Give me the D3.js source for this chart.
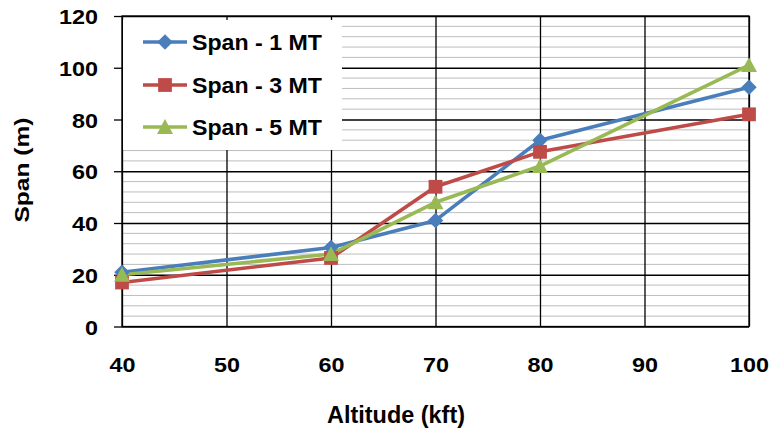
<!DOCTYPE html>
<html><head><meta charset="utf-8">
<script src="https://cdn.jsdelivr.net/npm/d3@7"></script>
<style>body{margin:0;background:#fff}svg{display:block}text{font-family:"Liberation Sans",Arial,sans-serif;font-weight:bold;fill:#000}</style>
</head><body>
<script>
const altitudes = [40, 60, 70, 80, 100];
const span1MT = [21, 30.5, 41, 72, 92.5];
const span3MT = [17, 26.5, 54, 67.5, 82];
const span5MT = [20, 28, 48, 62, 101];
const seriesNames = ["Span - 1 MT", "Span - 3 MT", "Span - 5 MT"];
const xTicks = [40, 50, 60, 70, 80, 90, 100];
const yTicks = [0, 20, 40, 60, 80, 100, 120];

const W = 781, H = 429;
const L = 122, R = 749, T = 16, B = 326.5;
const svg = d3.select("body").append("svg").attr("width", W).attr("height", H);
const x = d3.scaleLinear().domain([40, 100]).range([L, R]);
const y = d3.scaleLinear().domain([0, 120]).range([B, T]);

const colors = ["#4A7EBB", "#BE4B48", "#98B954"];
const diamond = { draw(ctx, s) { const r = Math.sqrt(s / 2); ctx.moveTo(0, -r); ctx.lineTo(r, 0); ctx.lineTo(0, r); ctx.lineTo(-r, 0); ctx.closePath(); } };
const square = { draw(ctx, s) { const h = Math.sqrt(s) / 2; ctx.rect(-h, -h, 2 * h, 2 * h); } };
const tri = { draw(ctx, s) { const w = Math.sqrt(s) * 0.58, hh = Math.sqrt(s) * 0.5; ctx.moveTo(0, -hh - 1); ctx.lineTo(w, hh); ctx.lineTo(-w, hh); ctx.closePath(); } };
const shapes = [diamond, square, tri];
const sizes = [120, 190, 190];

// minor gridlines
const minor = d3.range(0, 121, 4).filter(v => v % 20 !== 0);
svg.append("g").selectAll("line").data(minor).join("line")
  .attr("x1", L).attr("x2", R).attr("y1", d => y(d)).attr("y2", d => y(d))
  .attr("stroke", "#bdbdbd").attr("stroke-width", 1);

// major grid via axes
svg.append("g").attr("transform", `translate(${L},0)`)
  .call(d3.axisLeft(y).tickValues(yTicks).tickSize(-(R - L)).tickFormat(""))
  .call(g => g.select(".domain").remove())
  .selectAll("line").attr("stroke", "#000").attr("stroke-width", 1.3);
svg.append("g").attr("transform", `translate(0,${B})`)
  .call(d3.axisBottom(x).tickValues(xTicks).tickSize(-(B - T)).tickFormat(""))
  .call(g => g.select(".domain").remove())
  .selectAll("line").attr("stroke", "#000").attr("stroke-width", 1.3);

// outer tick marks + labels on y
svg.append("g").attr("transform", `translate(${L},0)`)
  .call(d3.axisLeft(y).tickValues(yTicks).tickSize(8).tickPadding(16))
  .call(g => g.select(".domain").remove())
  .call(g => g.selectAll("line").attr("stroke", "#000").attr("stroke-width", 1.3))
  .call(g => g.selectAll("text").attr("font-size", null).style("font-size", "21px").attr("dy", "0.36em")
     .attr("textLength", d => String(d).length * 13).attr("lengthAdjust", "spacingAndGlyphs").attr("fill", "#000"));

// x tick labels
svg.append("g").attr("transform", `translate(0,${B})`)
  .call(d3.axisBottom(x).tickValues(xTicks).tickSize(0).tickPadding(31))
  .call(g => g.select(".domain").remove())
  .call(g => g.selectAll("text").style("font-size", "21px")
     .attr("textLength", d => String(d).length * 13).attr("lengthAdjust", "spacingAndGlyphs").attr("fill", "#000"));

// border
svg.append("rect").attr("x", L).attr("y", T).attr("width", R - L).attr("height", B - T)
  .attr("fill", "none").attr("stroke", "#000").attr("stroke-width", 1.3);

// legend box
svg.append("rect").attr("x", L + 1).attr("y", T + 4).attr("width", 219).attr("height", 130).attr("fill", "#fff");

const all = [span1MT, span3MT, span5MT];
const line = d3.line().x((d, i) => x(altitudes[i])).y(d => y(d));
all.forEach((vals, k) => {
  svg.append("path").datum(vals).attr("d", line).attr("fill", "none")
    .attr("stroke", colors[k]).attr("stroke-width", 3.6).attr("stroke-linejoin", "round");
});
all.forEach((vals, k) => {
  svg.append("g").selectAll("path").data(vals).join("path")
    .attr("transform", (d, i) => `translate(${x(altitudes[i])},${y(d)})`)
    .attr("d", d3.symbol().type(shapes[k]).size(sizes[k])).attr("fill", colors[k]);
});

// legend
const ly = [42, 85, 127];
seriesNames.forEach((n, k) => {
  const g = svg.append("g").attr("transform", `translate(0,${ly[k]})`);
  g.append("line").attr("x1", 143).attr("x2", 187).attr("stroke", colors[k]).attr("stroke-width", 3.6);
  g.append("path").attr("transform", "translate(165,0)").attr("d", d3.symbol().type(shapes[k]).size(sizes[k])).attr("fill", colors[k]);
  g.append("text").attr("x", 192).attr("y", 8).style("font-size", "22px")
    .attr("textLength", 130).attr("lengthAdjust", "spacingAndGlyphs").text(n);
});

// axis titles
svg.append("text").attr("x", 396).attr("y", 423).attr("text-anchor", "middle").style("font-size", "23px")
  .attr("textLength", 138).attr("lengthAdjust", "spacingAndGlyphs").text("Altitude (kft)");
svg.append("text").attr("transform", "translate(29,170) rotate(-90)").attr("text-anchor", "middle").style("font-size", "21px")
  .attr("textLength", 105).attr("lengthAdjust", "spacingAndGlyphs").text("Span (m)");
</script>
</body></html>
